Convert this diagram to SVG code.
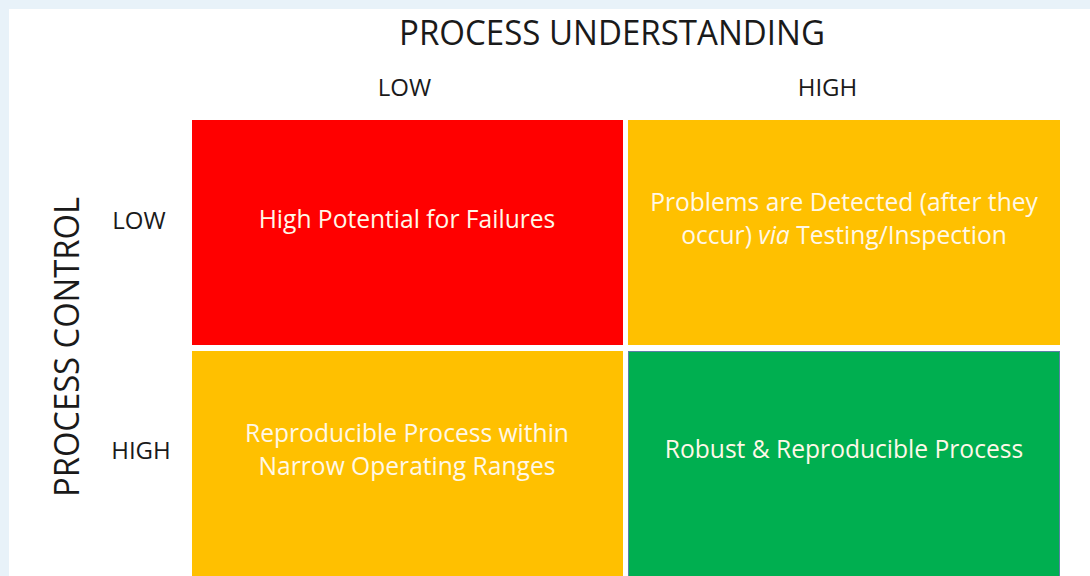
<svg xmlns="http://www.w3.org/2000/svg" width="1090" height="576" viewBox="0 0 1090 576">
  <style>
    .axis { font-family: "Open Sans", Lato, sans-serif; fill: #1a1a1a; text-anchor: middle; }
    .title { font-size: 34px; }
    .lvl { font-size: 24px; }
    .cell-text { font-family: "Open Sans", Lato, sans-serif; font-size: 24.6px; fill: #FFF8E8; text-anchor: middle; }
  </style>
  <!-- page frame -->
  <rect x="0" y="0" width="1090" height="576" fill="#E8F2F9"/>
  <rect x="9" y="9" width="1081" height="567" fill="#FFFFFF"/>

  <!-- axis headings -->
  <g id="axis-labels">
    <text class="axis title" x="612" y="45" textLength="426" lengthAdjust="spacingAndGlyphs">PROCESS UNDERSTANDING</text>
    <text class="axis lvl" x="404.5" y="96">LOW</text>
    <text class="axis lvl" x="827.5" y="96">HIGH</text>
    <text class="axis title" transform="translate(79 347) rotate(-90)" font-size="36" textLength="300" lengthAdjust="spacingAndGlyphs">PROCESS CONTROL</text>
    <text class="axis lvl" x="139" y="229">LOW</text>
    <text class="axis lvl" x="141" y="459">HIGH</text>
  </g>

  <!-- quadrants -->
  <g id="q-low-low">
    <rect x="192" y="120" width="431" height="225" fill="#FF0000"/>
    <text class="cell-text" x="407" y="228">High Potential for Failures</text>
  </g>
  <g id="q-low-high">
    <rect x="628" y="120" width="432" height="225" fill="#FFC000"/>
    <text class="cell-text" x="844" y="211">Problems are Detected (after they</text>
    <text class="cell-text" x="844" y="244">occur) <tspan font-style="italic">via</tspan> Testing/Inspection</text>
  </g>
  <g id="q-high-low">
    <rect x="192" y="351" width="431" height="225" fill="#FFC000"/>
    <text class="cell-text" x="407" y="442">Reproducible Process within</text>
    <text class="cell-text" x="407" y="475">Narrow Operating Ranges</text>
  </g>
  <g id="q-high-high">
    <rect x="628.5" y="351.5" width="431" height="226" fill="#00AF50" stroke="#5B7FA6" stroke-width="1"/>
    <text class="cell-text" x="844" y="458">Robust &amp; Reproducible Process</text>
  </g>

  <g id="connectors"/>
</svg>
